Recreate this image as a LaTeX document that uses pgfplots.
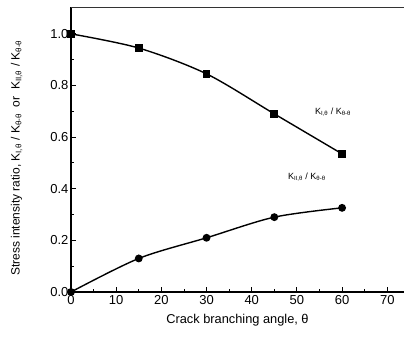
\documentclass[border=0pt]{standalone}
\usepackage{fontspec}
\setmainfont{Liberation Sans}
\usepackage{pgfplots}
\pgfplotsset{compat=1.18}
\begin{document}
\begin{tikzpicture}
\useasboundingbox (-71pt,-46pt) rectangle (334pt,292pt);
\begin{axis}[
  scale only axis, width=333pt, height=285pt,
  xmin=0, xmax=73.7, ymin=0, ymax=1.104,
  axis lines=left,
  axis line style={-, line width=1.3pt},
  xtick={0,10,...,70}, ytick={0,0.2,...,1.0},
  minor xtick={5,15,...,65}, minor ytick={0.1,0.3,...,0.9},
  tick align=inside, major tick length=5pt, minor tick length=3pt,
  tick style={line width=0.9pt, black},
  yticklabel style={/pgf/number format/fixed, /pgf/number format/fixed zerofill, /pgf/number format/precision=1, xshift=1pt},
  /pgf/number format/assume math mode=true,
  ticklabel style={font=\fontsize{13}{14}\selectfont},
  xlabel={Crack branching angle, θ},
  ylabel={Stress intensity ratio, K\textsubscript{I,θ} / K\textsubscript{θ-θ}\ \ or\ \ K\textsubscript{II,θ} / K\textsubscript{θ-θ}},
  label style={font=\fontsize{12.8}{14}\selectfont},
  xlabel style={at={(axis description cs:0.5,0)}, anchor=north, yshift=-19pt},
  ylabel style={at={(axis description cs:0,0.47)}, anchor=south, font=\fontsize{12}{13}\selectfont, yshift=45pt},
  clip=false,
]
\addplot[black, line width=1.4pt, smooth, mark=square*, mark size=3.2pt] coordinates {(0,1.0) (15,0.945) (30,0.845) (45,0.69) (60,0.535)};
\addplot[black, line width=1.4pt, smooth, mark=*, mark size=3.2pt] coordinates {(0,0) (15,0.13) (30,0.21) (45,0.29) (60,0.326)};
\addplot[only marks, mark=*, mark size=3.4pt, black] coordinates {(0,1.0)};
\node[font=\fontsize{9}{10}\selectfont] at (axis cs:58,0.698) {K\textsubscript{I,θ} / K\textsubscript{θ-θ}};
\node[font=\fontsize{9}{10}\selectfont] at (axis cs:52.2,0.446) {K\textsubscript{II,θ} / K\textsubscript{θ-θ}};
\draw[line width=0.8pt, black!80] (rel axis cs:0,1) -- (rel axis cs:1,1);
\end{axis}
\end{tikzpicture}
\end{document}
